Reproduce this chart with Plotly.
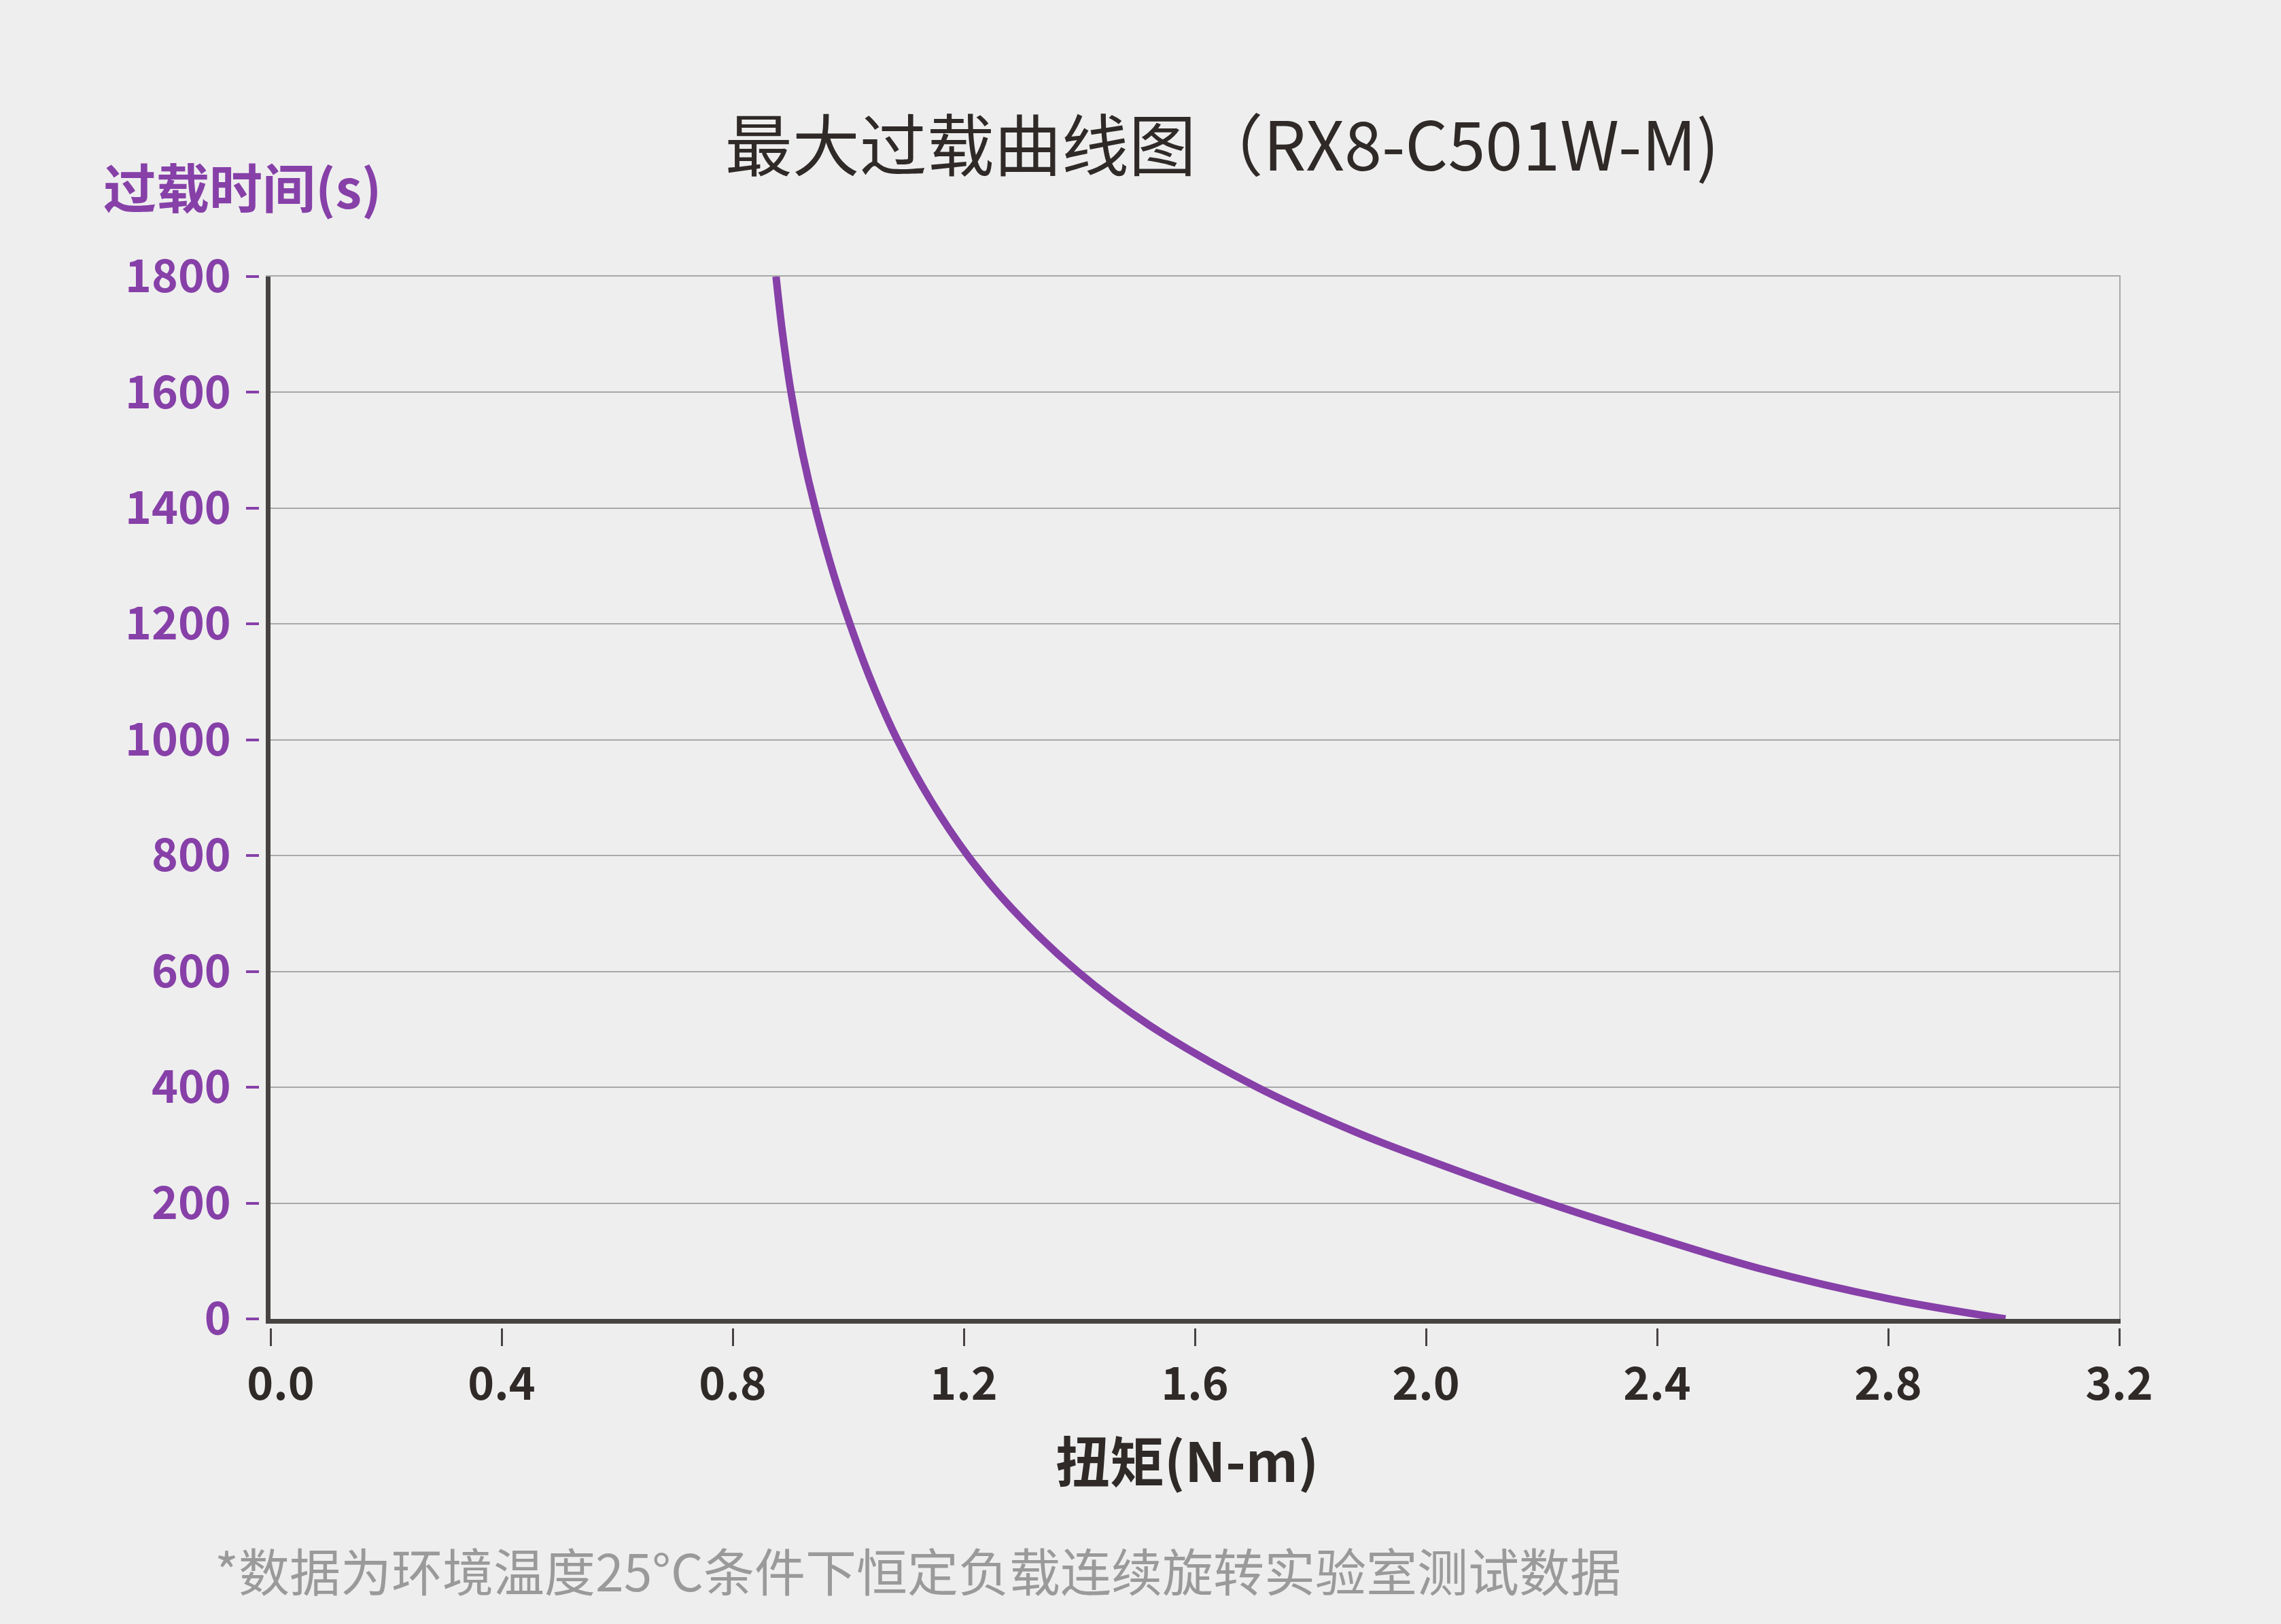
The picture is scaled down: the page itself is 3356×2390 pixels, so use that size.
import plotly.graph_objects as go

# 过载曲线数据
torque = [0.875, 0.886, 0.901, 0.921, 0.943, 0.975, 1.003, 1.040, 1.085, 1.143,
          1.207, 1.283, 1.397, 1.520, 1.708, 1.880, 2.002, 2.218, 2.400, 2.579,
          2.800, 3.003]
overload_time = [1800, 1704, 1600, 1494, 1400, 1285, 1200, 1101, 1000, 895,
                 800, 709, 600, 508, 400, 322, 275, 198, 140, 86.5,
                 35, 0]

x_ticks = [0.0, 0.4, 0.8, 1.2, 1.6, 2.0, 2.4, 2.8, 3.2]
y_ticks = [0, 200, 400, 600, 800, 1000, 1200, 1400, 1600, 1800]

TITLE = "最大过载曲线图（RX8-C501W-M)"
Y_TITLE = "过载时间(s)"
X_TITLE = "扭矩(N-m)"
NOTE = "*数据为环境温度25°C条件下恒定负载连续旋转实验室测试数据"

PURPLE = "#8640A8"
DARK = "#2f2a28"
AXIS = "#474342"
GRID = "#a8a8a8"
BG = "#eeeeee"
FONT = "Noto Sans CJK SC"

W, H = 3356, 2390
ML, MR, MT, MB = 340, 238, 407, 420
PW = W - ML - MR
PH = H - MT - MB
XD0 = (398 - ML) / PW
YD0 = (H - MB - 1941) / PH

# "0.0" 在原图中略向右偏, 用不换行空格推开
x_ticktext = [("\u00a0\u00a0" if v == 0 else "") + f"{v:.1f}" for v in x_ticks]

fig = go.Figure()
fig.add_trace(go.Scatter(
    x=torque,
    y=overload_time,
    mode="lines",
    line=dict(color=PURPLE, width=11, shape="spline", smoothing=1.0),
    showlegend=False,
    hoverinfo="skip",
))
# 透明曲线, 让叠加的刻度轴和边框轴也被绘制出来
fig.add_trace(go.Scatter(
    x=torque, y=overload_time, xaxis="x2", yaxis="y2",
    mode="lines", opacity=0, showlegend=False, hoverinfo="skip",
))
fig.add_trace(go.Scatter(
    x=torque, y=overload_time, xaxis="x3", yaxis="y3",
    mode="lines", opacity=0, showlegend=False, hoverinfo="skip",
))

fig.update_layout(
    width=W,
    height=H,
    margin=dict(l=ML, r=MR, t=MT, b=MB),
    paper_bgcolor=BG,
    plot_bgcolor=BG,
    font=dict(family=FONT, color=DARK),
    title=dict(
        text=TITLE,
        x=(1798 - ML) / PW,
        xref="paper",
        xanchor="center",
        y=1 - 216 / H,
        yanchor="middle",
        font=dict(family=FONT, size=99, color=DARK),
    ),
    xaxis=dict(
        domain=[XD0, 1],
        range=[0, 3.2],
        showline=True,
        linecolor=AXIS,
        linewidth=7,
        showgrid=False,
        zeroline=False,
        showticklabels=False,
        ticks="",
    ),
    yaxis=dict(
        domain=[YD0, 1],
        range=[0, 1800],
        tickvals=y_ticks,
        showline=True,
        linecolor=AXIS,
        linewidth=7,
        showgrid=True,
        gridcolor=GRID,
        gridwidth=2,
        zeroline=False,
        showticklabels=False,
        ticks="",
    ),
    xaxis2=dict(
        overlaying="x",
        anchor="free",
        position=(H - MB - 1954) / PH,
        domain=[XD0, 1],
        range=[0, 3.2],
        tickvals=x_ticks,
        ticktext=x_ticktext,
        ticks="outside",
        ticklen=26,
        tickwidth=3,
        tickcolor=AXIS,
        showline=False,
        showgrid=False,
        zeroline=False,
        ticklabelstandoff=0,
        tickfont=dict(family=FONT, size=66, color=DARK, weight="bold"),
    ),
    yaxis2=dict(
        overlaying="y",
        anchor="free",
        position=(381 - ML) / PW,
        side="left",
        domain=[YD0, 1],
        range=[0, 1800],
        tickvals=y_ticks,
        ticks="outside",
        ticklen=19,
        tickwidth=4,
        tickcolor=PURPLE,
        showline=False,
        showgrid=False,
        zeroline=False,
        ticklabelstandoff=9,
        tickfont=dict(family=FONT, size=66, color=PURPLE, weight="bold"),
    ),
    xaxis3=dict(
        overlaying="x",
        anchor="y",
        side="top",
        domain=[XD0, 1],
        range=[0, 3.2],
        showline=True,
        linecolor=GRID,
        linewidth=2,
        showgrid=False,
        zeroline=False,
        showticklabels=False,
        ticks="",
    ),
    yaxis3=dict(
        overlaying="y",
        anchor="x",
        side="right",
        domain=[YD0, 1],
        range=[0, 1800],
        showline=True,
        linecolor=GRID,
        linewidth=2,
        showgrid=False,
        zeroline=False,
        showticklabels=False,
        ticks="",
    ),
)

fig.add_annotation(
    text=Y_TITLE,
    xref="paper", yref="paper",
    x=(150 - ML) / PW,
    y=(H - MB - 273) / PH,
    xanchor="left", yanchor="middle",
    showarrow=False,
    font=dict(family=FONT, size=78, color=PURPLE, weight="bold"),
)
fig.add_annotation(
    text=X_TITLE,
    xref="paper", yref="paper",
    x=(1746 - ML) / PW,
    y=(H - MB - 2146) / PH,
    xanchor="center", yanchor="middle",
    showarrow=False,
    font=dict(family=FONT, size=80, color=DARK, weight="bold"),
)
fig.add_annotation(
    text=NOTE,
    xref="paper", yref="paper",
    x=(314 - ML) / PW,
    y=(H - MB - 2309) / PH,
    xanchor="left", yanchor="middle",
    showarrow=False,
    font=dict(family=FONT, size=75, color="#9a9a9a"),
)

# 去掉页面默认边距, 背景与图一致
fig.write_html(
    "out.html",
    config={"displayModeBar": False},
    post_script=f"document.body.style.margin='0';document.body.style.background='{BG}';",
)
